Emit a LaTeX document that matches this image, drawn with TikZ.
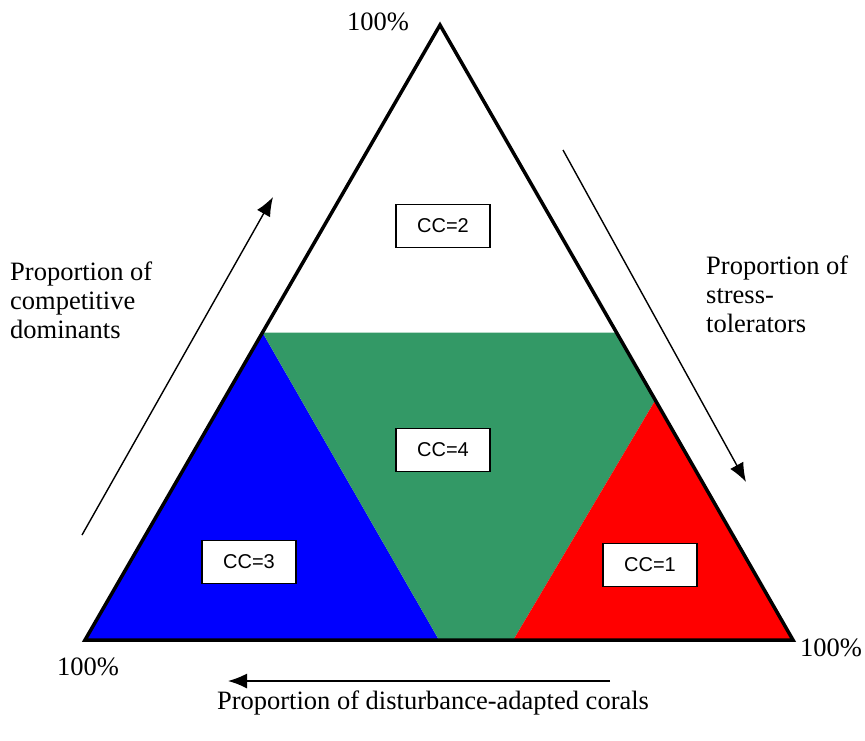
\documentclass[tikz,border=0pt]{standalone}
\usepackage{fontspec}
\setmainfont{Liberation Serif}
\setsansfont{Liberation Sans}
\usetikzlibrary{arrows.meta,calc}
\definecolor{ccgreen}{RGB}{51,153,102}

\begin{document}
\begin{tikzpicture}[x=1pt,y=-1pt,>={Latex[length=19pt,width=15pt]},
    lbl/.style={font=\fontsize{26.5}{29}\selectfont, inner sep=0pt},
    ccbox/.style={draw, fill=white, line width=1.5pt, minimum width=94pt, minimum height=43pt, inner sep=0pt, font=\sffamily\fontsize{20}{22}\selectfont},
    axis/.style={->, line width=1.4pt}]
        \useasboundingbox (0,0) rectangle (865,740);
        \coordinate (T) at (440,25);
        \coordinate (L) at (85,640);
        \coordinate (R) at (793,640);
        % regions
        \fill[blue] (L) -- ($(T)!0.5!(L)$) -- ($(L)!0.5!(R)$) -- cycle;
        \fill[ccgreen] ($(T)!0.5!(L)$) -- ($(T)!0.5!(R)$) -- ($(T)!0.61!(R)$) -- ($(L)!0.605!(R)$) -- ($(L)!0.5!(R)$) -- cycle;
        \fill[red] ($(T)!0.61!(R)$) -- (R) -- ($(L)!0.605!(R)$) -- cycle;
        \draw[line width=3.5pt] (T) -- (L) -- (R) -- cycle;
        \node[ccbox] (cc2) at (443,226) {CC=2};
        \node[ccbox] (cc4) at (443,450) {CC=4};
        \node[ccbox] (cc3) at (249,562) {CC=3};
        \node[ccbox] (cc1) at (650,565) {CC=1};
        % labels
        \node[lbl] (pT) at (378,22) {100\%};
        \node[lbl] (pL) at (88,667) {100\%};
        \node[lbl] (pR) at (831,648) {100\%};
        \node[lbl, align=left, anchor=west] (comp) at (10,300) {Proportion of\\competitive\\dominants};
        \node[lbl, align=left, anchor=west] (stress) at (706,294) {Proportion of\\stress-\\tolerators};
        \node[lbl] (dist) at (433,703) {Proportion of disturbance-adapted corals};
        % arrows
        \coordinate (compA) at (82,535);
        \coordinate (compB) at (273,197);
        \coordinate (stressA) at (563,150);
        \coordinate (stressB) at (746,482);
        \coordinate (distA) at (610,681);
        \coordinate (distB) at (228,681);
        \draw[axis] (compA) -- (compB);
        \draw[axis] (stressA) -- (stressB);
        \draw[axis] (distA) -- (distB);
    \end{tikzpicture}
\end{document}
